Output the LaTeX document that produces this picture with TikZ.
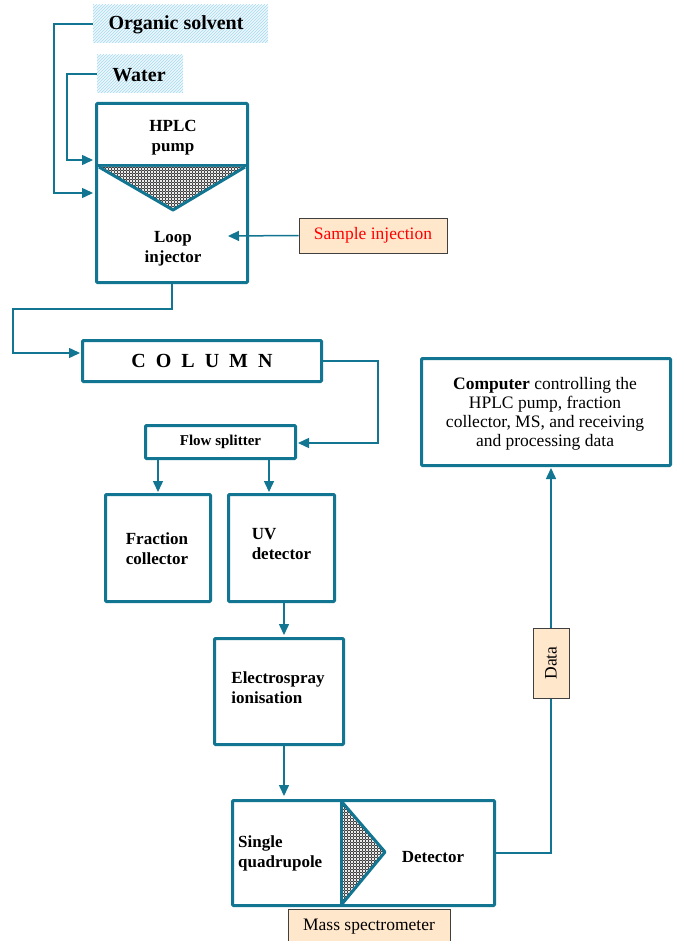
\documentclass[tikz,border=0pt]{standalone}
\usepackage{fontspec}
\setmainfont{Liberation Serif}
\usetikzlibrary{arrows.meta,patterns}
\definecolor{teal}{RGB}{18,117,145}
\definecolor{peach}{RGB}{255,231,204}
\definecolor{hatchbg}{RGB}{238,248,253}
\definecolor{hatchln}{RGB}{165,218,240}
\pgfdeclarepatternformonly{rings}{\pgfpoint{0pt}{0pt}}{\pgfpoint{3.4pt}{3.4pt}}{\pgfpoint{3.4pt}{3.4pt}}{%
  \pgfsetlinewidth{0.55pt}%
  \pgfpathcircle{\pgfpoint{1.7pt}{1.7pt}}{1.25pt}%
  \pgfusepath{stroke}}
\begin{document}
\begin{tikzpicture}[x=1pt,y=-1pt,
  boxline/.style={draw=teal, line width=3pt, rounded corners=1pt},
  mbox/.style={boxline, fill=white, inner sep=0pt},
  conn/.style={draw=teal, line width=1.5pt},
  arr/.style={conn, -{Triangle[length=11pt,width=10pt]}},
  lbl/.style={draw=black!75, line width=0.8pt, fill=peach, inner sep=0pt},
  src/.style={fill=hatchbg, inner sep=0pt},
  txt/.style={font=\fontsize{17}{20}\selectfont\bfseries, align=center, inner sep=0pt},
  rtxt/.style={font=\fontsize{17.5}{19}\selectfont, align=center, inner sep=0pt},
  mesh/.style={pattern=rings, pattern color=black!90}
]
\useasboundingbox (0,0) rectangle (673,941);
\clip (0,0) rectangle (673,941);

% source labels
\node[src, minimum width=175pt, minimum height=38pt] (org) at (180.5,24) {};
\fill[pattern=north east lines, pattern color=hatchln] (93,5) rectangle (268,43);
\node[txt, font=\fontsize{20}{22}\selectfont\bfseries] (orgtxt) at (176,25) {Organic solvent};
\node[src, minimum width=86pt, minimum height=38pt] (wat) at (140,74) {};
\fill[pattern=north east lines, pattern color=hatchln] (97,55) rectangle (183,93);
\node[txt, font=\fontsize{20}{22}\selectfont\bfseries] (wattxt) at (139,75) {Water};

% HPLC pump / loop injector
\node[mbox, minimum width=151pt, minimum height=179pt] (pump) at (172,193) {};
\draw[boxline] (96.5,166) -- (247.5,166);
\fill[white] (99,167) -- (245,167) -- (173,210) -- cycle;
\fill[mesh] (99,167) -- (245,167) -- (173,210) -- cycle;
\draw[draw=teal, line width=3pt, line join=round] (99,167) -- (173,210) -- (245,167);
\node[txt] (pumptxt) at (173,138) {HPLC\\pump};
\node[txt] (looptxt) at (173,249) {Loop\\injector};

\coordinate (inOrg) at (93,193);
\coordinate (inWat) at (93,160);
\draw[arr] (org.west) -- ++(-39,0) |- (inOrg);
\draw[arr] (wat.west) -- ++(-30,0) |- (inWat);

% sample injection
\node[lbl, minimum width=148pt, minimum height=35pt, text=red, rtxt, font=\fontsize{17.5}{19}\selectfont] (samp) at (373,235.5) {Sample injection};
\coordinate (sampIn) at (228,236);
\draw[arr] (samp.west) -- (sampIn);

% column
\node[mbox, minimum width=239pt, minimum height=41pt, font=\fontsize{20}{22}\selectfont\bfseries] (col) at (202,361) {C\,\,\,O\,\,\,L\,\,\,U\,\,\,M\,\,\,N};
\coordinate (colIn) at (80,353);
\draw[arr] (pump.south) -- ++(0,25) -- ++(-159,0) |- (colIn);

% flow splitter
\node[mbox, minimum width=150pt, minimum height=33pt, font=\fontsize{15}{17}\selectfont\bfseries] (fs) at (220.5,442) {Flow splitter};
\coordinate (fsIn) at (298,443);
\draw[arr] (col.east) -- ++(55,0) |- (fsIn);

% fraction collector and UV detector
\node[mbox, minimum width=105pt, minimum height=107pt] (frac) at (158,548) {};
\node[txt] (fractxt) at (157,549) {Fraction\\collector};
\node[mbox, minimum width=106pt, minimum height=107pt] (uv) at (281.5,548) {};
\node[txt, align=left] (uvtxt) at (281.5,544) {UV\\detector};
\coordinate (fracIn) at (158,492);
\coordinate (uvIn) at (269,492);
\draw[arr] (fs.south -| fracIn) -- (fracIn);
\draw[arr] (fs.south -| uvIn) -- (uvIn);

% electrospray
\node[mbox, minimum width=129pt, minimum height=106pt] (esi) at (279,691.5) {};
\node[txt, align=left] (esitxt) at (278,688) {Electrospray\\ionisation};
\coordinate (esiIn) at (284,635);
\draw[arr] (uv.south -| esiIn) -- (esiIn);

% mass spectrometer
\node[mbox, minimum width=262pt, minimum height=105pt] (ms) at (363.5,853) {};
\draw[boxline] (341,800.5) -- (341,905.5);
\fill[white] (343,802) -- (385,852) -- (343,904) -- cycle;
\fill[mesh] (343,802) -- (385,852) -- (343,904) -- cycle;
\draw[draw=teal, line width=3pt, line join=round] (342,802) -- (385,852) -- (342,904);
\node[txt, align=left, anchor=west] (sqtxt) at (238,853) {Single\\quadrupole};
\node[txt] (dettxt) at (433,857) {Detector};
\coordinate (msIn) at (284,796);
\draw[arr] (esi.south -| msIn) -- (msIn);
\node[lbl, minimum width=162pt, minimum height=36pt, rtxt, font=\fontsize{17.5}{19}\selectfont] (mslbl) at (369,927) {\raisebox{-2pt}{Mass spectrometer}};

% computer
\node[mbox, minimum width=249pt, minimum height=107pt] (comp) at (546,412) {};
\node[rtxt] (comptxt) at (545,414) {\textbf{Computer} controlling the\\HPLC pump, fraction\\collector, MS, and receiving\\and processing data};
\coordinate (compIn) at (551,468);
\draw[arr] (ms.east) -| (compIn);
\node[lbl, rotate=90, minimum width=70pt, minimum height=36pt, font=\fontsize{17.5}{19}\selectfont] (data) at (551,663) {Data};
\end{tikzpicture}
\end{document}
